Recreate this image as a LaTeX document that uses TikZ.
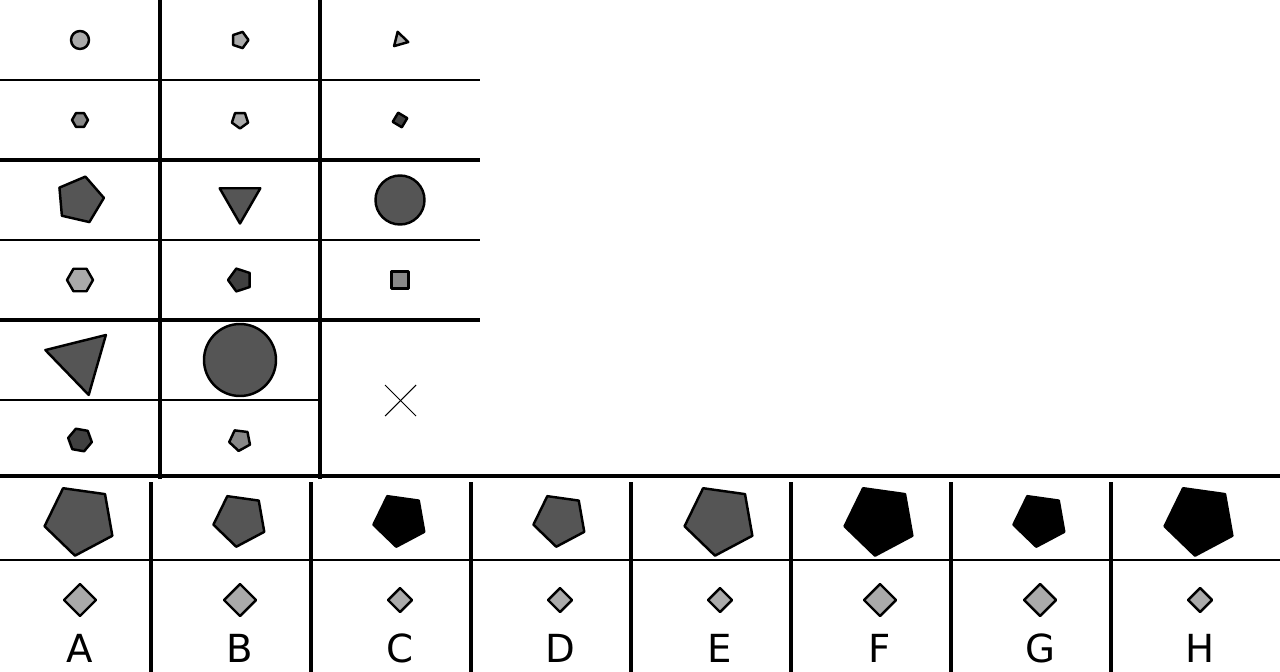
\documentclass[tikz,border=0pt]{standalone}
\usepackage{fontspec}
\setmainfont{DejaVu Sans}
\usepackage{tikz}
\usetikzlibrary{calc}
\usepackage{xcolor}
\definecolor{lightfill}{HTML}{AAAAAA}
\definecolor{midfill}{HTML}{888888}
\definecolor{darkfill}{HTML}{555555}
\definecolor{deepfill}{HTML}{404040}

% regular polygon: style, centre, sides, radius, start angle
\newcommand{\ngon}[5]{%
  \draw[#1, shift={(#2)}] (#5:#4)
    \foreach \k in {2,...,#3} {-- ({#5+(\k-1)*360/#3}:#4)} -- cycle;}

\tikzset{
  thinrule/.style={line width=0.85pt},
  thickrule/.style={line width=2.3pt},
  piece/.style={draw=black, line width=1.4pt, line join=round},
}

\begin{document}
\begin{tikzpicture}[x=0.02cm, y=-0.02cm]
    \useasboundingbox (0,0) rectangle (1280,672);

    % Matrix grid
    \draw[thinrule] (0,80) -- (480,80);
    \draw[thickrule] (0,160) -- (480,160);
    \draw[thinrule] (0,240) -- (480,240);
    \draw[thickrule] (0,320) -- (480,320);
    \draw[thinrule] (0,400) -- (320,400);
    \draw[thickrule] (160,0) -- (160,479);
    \draw[thickrule] (320,0) -- (320,479);

    % Row 1
    \draw[piece, fill=lightfill] (80,40) circle (9);
    \ngon{piece, fill=lightfill}{240,40}{5}{8.5}{0}
    \ngon{piece, fill=lightfill}{400,40}{3}{8.5}{14}
    \ngon{piece, fill=midfill}{80,120}{6}{8}{0}
    \ngon{piece, fill=lightfill}{240,120}{5}{8.5}{90}
    \ngon{piece, fill=deepfill}{400,120}{4}{7.5}{76}

    % Row 2
    \ngon{piece, fill=darkfill}{80,200}{5}{24}{-5}
    \ngon{piece, fill=darkfill}{240,200}{3}{23.5}{90}
    \draw[piece, fill=darkfill] (400,200) circle (24.5);
    \ngon{piece, fill=lightfill}{80,280}{6}{13}{0}
    \ngon{piece, fill=deepfill}{240,280}{5}{12}{180}
    \ngon{piece, fill=midfill}{400,280}{4}{12}{45}

    % Row 3
    \ngon{piece, fill=darkfill}{80,360}{3}{36}{76}
    \draw[piece, fill=darkfill] (240,360) circle (36);
    \ngon{piece, fill=deepfill}{80,440}{6}{12}{10}
    \ngon{piece, fill=midfill}{240,440}{5}{11}{25}

    % Missing cell
    \coordinate (gapA) at (385,385);
    \coordinate (gapB) at (416,416);
    \draw[line width=0.6pt] (gapA) -- (gapB);
    \draw[line width=0.6pt] (gapA|-gapB) -- (gapB|-gapA);

    % Answer panel
    \draw[line width=2.8pt] (0,476) -- (1280,476);
    \draw[thinrule] (0,560) -- (1280,560);
    \foreach \lbl/\col/\pr/\dr [count=\i from 0] in
        {A/darkfill/36/16, B/darkfill/27/16, C/black/27/12, D/darkfill/27/12,
         E/darkfill/36/12, F/black/36/16, G/black/27/16, H/black/36/12} {
      \pgfmathsetmacro{\cx}{80+160*\i}
      \ngon{piece, fill=\col}{\cx,520}{5}{\pr}{26}
      \ngon{piece, fill=lightfill}{\cx,600}{4}{\dr}{0}
      \node[anchor=base, inner sep=0pt, font=\fontsize{22}{22}\selectfont]
        (opt\lbl) at (\cx,662) {\lbl};
    }
    \foreach \i in {0,...,6}
      \draw[thickrule] ({151+160*\i},482) -- ({151+160*\i},672);
\end{tikzpicture}
\end{document}
